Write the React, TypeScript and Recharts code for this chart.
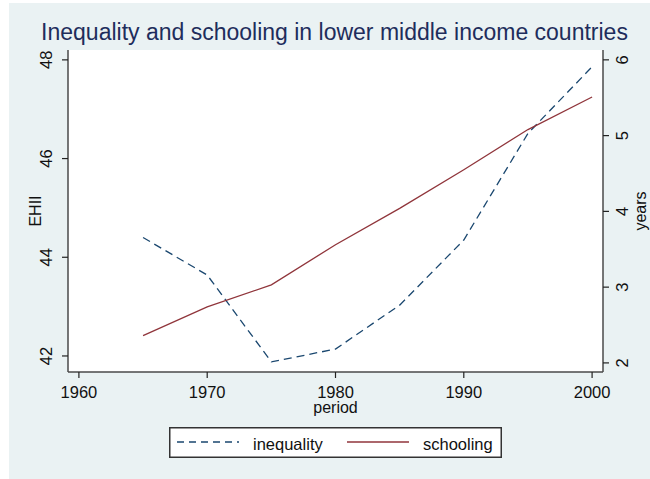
import React from "react";
import { LineChart, Line, XAxis, YAxis, CartesianGrid, Legend } from "recharts";

const periods = [1965, 1970, 1975, 1980, 1985, 1990, 1995, 2000];
const inequality = [44.4, 43.64, 41.88, 42.14, 43.03, 44.35, 46.51, 47.86];
const schooling = [2.36, 2.74, 3.03, 3.56, 4.04, 4.55, 5.08, 5.51];

const periodTicks = [1960, 1970, 1980, 1990, 2000];
const ehiiTicks = [42, 44, 46, 48];
const yearsTicks = [2, 3, 4, 5, 6];

const seriesNames = ["inequality", "schooling"];

const FONT = "Arial, 'Liberation Sans', sans-serif";
const NAVY = "#1A476F";
const MAROON = "#90353B";
const BG = "#EAF2F3";
const AXIS = "#4A4A4A";

const data = periods.map((p, i) => ({
	period: p,
	inequality: inequality[i],
	schooling: schooling[i],
}));

const LeftTick = (props: any) => {
	const { x, y, payload } = props;
	return (
		<text
			transform={`translate(${x - 13.5},${y}) rotate(-90)`}
			textAnchor='middle'
			dy='0.35em'
			fontSize={16.5}
			fontFamily={FONT}
			fill='#111'
		>
			{payload.value}
		</text>
	);
};

const RightTick = (props: any) => {
	const { x, y, payload } = props;
	return (
		<text
			transform={`translate(${x + 11.5},${y}) rotate(-90)`}
			textAnchor='middle'
			dy='0.35em'
			fontSize={16.5}
			fontFamily={FONT}
			fill='#111'
		>
			{payload.value}
		</text>
	);
};

const axisTitle = (text: string, dx: number, dy: number, rotate: boolean) => (props: any) => {
	const vb = props.viewBox;
	const cx = vb.x + (rotate ? dx : vb.width / 2);
	const cy = vb.y + (rotate ? vb.height / 2 : dy);
	return (
		<text
			transform={rotate ? `translate(${cx},${cy}) rotate(-90)` : `translate(${cx},${cy})`}
			textAnchor='middle'
			dy={rotate ? "0.35em" : 0}
			fontSize={16}
			fontFamily={FONT}
			fill='#111'
		>
			{text}
		</text>
	);
};

const LegendBox = () => (
	<svg width={333} height={31} style={{ display: "block" }}>
		<rect x={0.75} y={0.75} width={331.5} height={29.5} fill='#fff' stroke='#333' strokeWidth={1.5} />
		{seriesNames.map((name, i) => {
			const left = i === 0 ? 8 : 178;
			return (
				<g key={name}>
					<line
						x1={left}
						x2={left + 62}
						y1={15}
						y2={15}
						stroke={i === 0 ? NAVY : MAROON}
						strokeWidth={1.3}
						strokeDasharray={i === 0 ? "7 5" : undefined}
					/>
					<text x={left + 76} y={23} fontSize={16.5} fontFamily={FONT} fill='#111'>
						{name}
					</text>
				</g>
			);
		})}
	</svg>
);

export default function App() {
	return (
		<div style={{ position: "absolute", left: 0, top: 0, width: 650, height: 479, background: "#fff" }}>
			<div style={{ position: "absolute", left: 9, top: 3, right: 0, bottom: 0, background: BG }} />
			<div style={{ position: "absolute", left: 0, top: 0 }}>
				<LineChart
					data={data}
					width={650}
					height={479}
					margin={{ top: 50, right: 0, left: 0, bottom: 71 }}
				>
					<rect x={68} y={50} width={535} height={322} fill='#fff' />
					<CartesianGrid yAxisId='left' vertical={false} stroke={BG} strokeWidth={1.5} fill='#fff' />
					<XAxis
						dataKey='period'
						type='number'
						domain={[1959.15, 2000.85]}
						ticks={periodTicks}
						height={36}
						tickSize={6}
						tickMargin={8}
						stroke={AXIS}
						axisLine={{ stroke: AXIS, strokeWidth: 1.5 }}
						tickLine={{ stroke: "#222", strokeWidth: 1.2 }}
						tick={{ fontSize: 16.5, fontFamily: FONT, fill: "#111" }}
						label={axisTitle("period", 0, 41, false)}
					/>
					<YAxis
						yAxisId='left'
						orientation='left'
						width={68}
						domain={[41.675, 48.2]}
						ticks={ehiiTicks}
						tickSize={6}
						axisLine={{ stroke: AXIS, strokeWidth: 1.5 }}
						tickLine={{ stroke: "#222", strokeWidth: 1.2 }}
						tick={<LeftTick />}
						label={axisTitle("EHII", 35, 0, true)}
					/>
					<YAxis
						yAxisId='right'
						orientation='right'
						width={47}
						domain={[1.88, 6.13]}
						ticks={yearsTicks}
						tickSize={6}
						axisLine={{ stroke: AXIS, strokeWidth: 1.5 }}
						tickLine={{ stroke: "#222", strokeWidth: 1.2 }}
						tick={<RightTick />}
						label={axisTitle("years", 37, 0, true)}
					/>
					<Legend
						layout='horizontal'
						verticalAlign='middle'
						align='center'
						content={<LegendBox />}
						wrapperStyle={{ left: 169, top: 427, width: 333, height: 31 }}
					/>
					<Line
						yAxisId='left'
						type='linear'
						dataKey='inequality'
						name='inequality'
						stroke={NAVY}
						strokeWidth={1.3}
						strokeDasharray='8 5'
						dot={false}
						isAnimationActive={false}
					/>
					<Line
						yAxisId='right'
						type='linear'
						dataKey='schooling'
						name='schooling'
						stroke={MAROON}
						strokeWidth={1.3}
						dot={false}
						isAnimationActive={false}
					/>
				</LineChart>
			</div>
			<svg width={650} height={479} style={{ position: "absolute", left: 0, top: 0, pointerEvents: "none" }}>
				<text x={334.5} y={40} textAnchor='middle' fontSize={23} fontFamily={FONT} fill='#1E2D5C'>
					Inequality and schooling in lower middle income countries
				</text>
			</svg>
		</div>
	);
}
